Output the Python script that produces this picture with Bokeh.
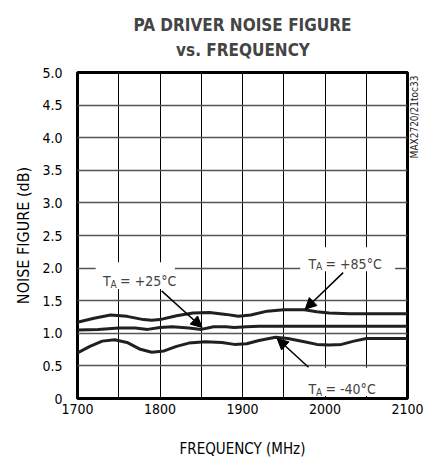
import math
from bokeh.plotting import figure
from bokeh.models import (FixedTicker, CustomJSTickFormatter, Label, Arrow,
                          NormalHead, BoxAnnotation, LinearAxis)
from bokeh.embed import file_html
from bokeh.resources import INLINE

FONT = "DejaVu Sans Condensed"

# ---- data ----
freq_85 = [1700, 1720, 1740, 1760, 1780, 1790, 1800, 1820, 1840, 1860, 1880, 1895,
           1910, 1930, 1950, 1975, 1990, 2005, 2030, 2060, 2100]
nf_85 = [1.17, 1.23, 1.28, 1.26, 1.21, 1.20, 1.21, 1.27, 1.31, 1.32, 1.29, 1.26,
         1.28, 1.34, 1.36, 1.36, 1.33, 1.31, 1.30, 1.30, 1.30]

freq_25 = [1700, 1725, 1750, 1770, 1785, 1800, 1815, 1835, 1850, 1865, 1880, 1890,
           1905, 1920, 1950, 2000, 2050, 2100]
nf_25 = [1.05, 1.06, 1.08, 1.08, 1.06, 1.09, 1.10, 1.08, 1.06, 1.10, 1.10, 1.09,
         1.10, 1.11, 1.11, 1.11, 1.11, 1.11]

freq_m40 = [1700, 1715, 1730, 1745, 1760, 1775, 1790, 1805, 1820, 1835, 1855, 1875,
            1890, 1905, 1920, 1940, 1955, 1975, 1990, 2005, 2020, 2035, 2050, 2070, 2100]
nf_m40 = [0.70, 0.80, 0.88, 0.90, 0.86, 0.76, 0.71, 0.73, 0.80, 0.85, 0.87, 0.86,
          0.83, 0.84, 0.89, 0.94, 0.92, 0.87, 0.83, 0.82, 0.83, 0.88, 0.92, 0.92, 0.92]

x_ticks = [1700, 1800, 1900, 2000, 2100]
x_minor = [1750, 1850, 1950, 2050]
y_ticks = [0, 0.5, 1.0, 1.5, 2.0, 2.5, 3.0, 3.5, 4.0, 4.5, 5.0]

TITLE_1 = "PA DRIVER NOISE FIGURE"
TITLE_2 = "vs. FREQUENCY"
SIDE_CODE = "MAX2720/21toc33"

CURVE = "#231f20"
NBSP = "\u00a0"

p = figure(frame_width=330, frame_height=326, x_range=(1700, 2100), y_range=(0, 5),
           output_backend="svg", toolbar_location=None,
           min_border_left=77, min_border_right=14, min_border_top=71,
           min_border_bottom=58)

# second line centred under the first with non-breaking spaces
p.title.text = TITLE_1 + "\n" + NBSP * 8 + TITLE_2
p.title.text_font = FONT
p.title.text_font_size = "17px"
p.title.text_font_style = "bold"
p.title.align = "center"
p.title.text_line_height = 1.25
p.title.standoff = 25

p.outline_line_color = "black"
p.outline_line_width = 3
p.outline_line_alpha = 1

# axes
p.xaxis.ticker = FixedTicker(ticks=x_ticks, minor_ticks=x_minor)
p.yaxis.ticker = FixedTicker(ticks=y_ticks)
p.yaxis.formatter = CustomJSTickFormatter(code="return tick == 0 ? '0' : tick.toFixed(1);")
for ax in (p.xaxis[0], p.yaxis[0]):
    ax.axis_line_color = None
    ax.major_tick_line_color = None
    ax.minor_tick_line_color = None
    ax.major_tick_out = 0
    ax.major_tick_in = 0
    ax.minor_tick_out = 0
    ax.minor_tick_in = 0
    ax.major_label_text_font = FONT
    ax.major_label_text_font_size = "14px"
    ax.major_label_text_color = "black"
    ax.axis_label_text_font = FONT
    ax.axis_label_text_font_style = "normal"
    ax.axis_label_text_color = "black"
p.xaxis.axis_label = "FREQUENCY (MHz)"
p.yaxis.axis_label = "NOISE FIGURE (dB)"
p.xaxis.axis_label_text_font_size = "15px"
p.yaxis.axis_label_text_font_size = "16px"
p.xaxis.major_label_standoff = 5
p.xaxis.axis_label_standoff = 23
p.yaxis.major_label_standoff = 15
p.yaxis.axis_label_standoff = 6

# side code as a label-only axis on the right (text starts at the frame centre,
# leading non-breaking spaces push it up to the top corner)
rax = LinearAxis(ticker=FixedTicker(ticks=[]),
                 axis_label=NBSP * 27 + SIDE_CODE, axis_line_color=None,
                 major_tick_line_color=None, minor_tick_line_color=None,
                 major_tick_out=0, minor_tick_out=0, major_label_standoff=0,
                 axis_label_standoff=7, axis_label_text_font=FONT,
                 axis_label_text_font_size="10px", axis_label_text_font_style="normal",
                 axis_label_text_color="#222222")
try:
    rax.axis_label_orientation = math.pi / 2
except Exception:
    pass
p.add_layout(rax, "right")

# grid
p.xgrid.grid_line_color = "black"
p.xgrid.grid_line_width = 1
p.xgrid.grid_line_alpha = 1
p.xgrid.minor_grid_line_color = "black"
p.xgrid.minor_grid_line_width = 1
p.ygrid.grid_line_color = "#555555"
p.ygrid.grid_line_width = 1.5
p.ygrid.grid_line_alpha = 1

# curves
p.line(freq_85, nf_85, line_color=CURVE, line_width=3)
p.line(freq_25, nf_25, line_color=CURVE, line_width=3)
p.line(freq_m40, nf_m40, line_color=CURVE, line_width=3)

# white boxes behind labels
for l, r, b, t in [(1722, 1818, 1.68, 2.09), (1970, 2085, 1.95, 2.32), (1968, 2083, 0.04, 0.47)]:
    p.add_layout(BoxAnnotation(left=l, right=r, bottom=b, top=t, fill_color="white",
                               fill_alpha=1, line_color=None))

# arrows
for xs, ys, xe, ye in [(1802, 1.65, 1851, 1.09), (2022, 1.93, 1976, 1.37), (1980, 0.48, 1942, 0.92)]:
    p.add_layout(Arrow(x_start=xs, y_start=ys, x_end=xe, y_end=ye, line_width=1.5,
                       line_color="black",
                       end=NormalHead(size=11, fill_color="black", line_color="black")))

# labels T_A = ...
for x0, y0, rest in [(1731, 1.80, "= +25°C"), (1980, 2.07, "= +85°C"), (1980, 0.145, "= -40°C")]:
    p.add_layout(Label(x=x0, y=y0, text="T", text_font=FONT, text_font_size="14px",
                       text_baseline="alphabetic", text_align="left"))
    p.add_layout(Label(x=x0, y=y0, x_offset=7.5, y_offset=-3, text="A", text_font=FONT,
                       text_font_size="10px", text_baseline="alphabetic", text_align="left"))
    p.add_layout(Label(x=x0, y=y0, x_offset=17, text=rest, text_font=FONT,
                       text_font_size="14px", text_baseline="alphabetic", text_align="left"))

open("out.html", "w").write(file_html(p, INLINE))
